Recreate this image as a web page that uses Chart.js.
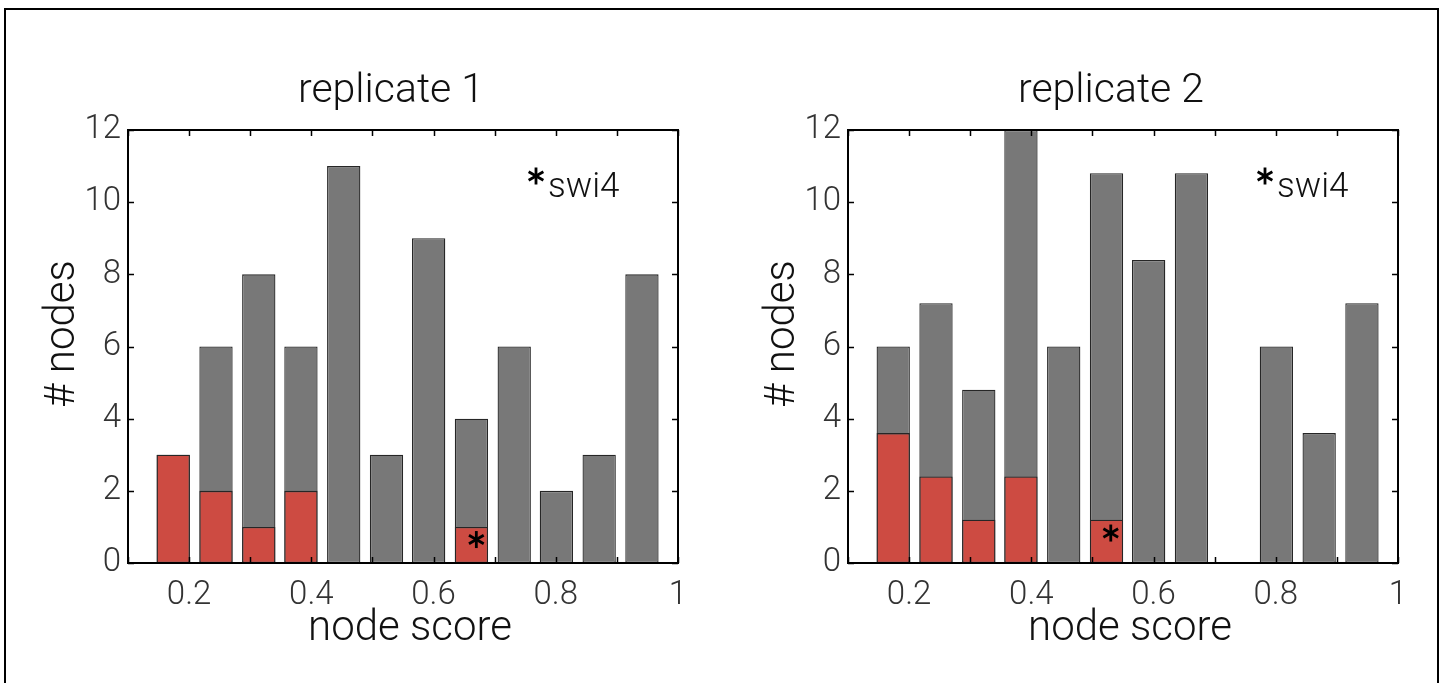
<!DOCTYPE html>
<html><head><meta charset="utf-8">
<script src="https://cdn.jsdelivr.net/npm/chart.js@4.4.0/dist/chart.umd.min.js"></script>
<style>
html,body{margin:0;padding:0;background:#fff;width:1443px;height:683px;overflow:hidden;position:relative;}
#frame{position:absolute;left:4px;top:8px;width:1435px;height:700px;border:2px solid #000;border-bottom:none;box-sizing:border-box;pointer-events:none;}
canvas{position:absolute;top:0;}
</style></head><body>
<canvas id="c1" width="720" height="683" style="left:0px"></canvas>
<canvas id="c2" width="720" height="683" style="left:720px"></canvas>
<div id="frame"></div>
<script>
// ---- data ----
const binCenters = [0.174, 0.244, 0.314, 0.383, 0.453, 0.523, 0.592, 0.662, 0.732, 0.801, 0.871, 0.941];
const rep1Total = [3, 6, 8, 6, 11, 3, 9, 4, 6, 2, 3, 8];
const rep1Red   = [3, 2, 1, 2, 0, 0, 0, 1, 0, 0, 0, 0];
const rep2Total = [6, 7.2, 4.8, 12, 6, 10.8, 8.4, 10.8, 0, 6, 3.6, 7.2];
const rep2Red   = [3.6, 2.4, 1.2, 2.4, 0, 1.2, 0, 0, 0, 0, 0, 0];
const rep1Star  = [0.670, 0.65];   // swi4 marker (x, y)
const rep2Star  = [0.530, 0.83];
const xTickLabels = [0.2, 0.4, 0.6, 0.8, 1];
const yTickValues = [0, 2, 4, 6, 8, 10, 12];
const titles = ['replicate 1', 'replicate 2'];
const xTitle = 'node score';
const yTitle = '# nodes';
const legendText = 'swi4';

const FONT = 'Roboto, "Liberation Sans", sans-serif';

function drawAsterisk(ctx, cx, cy, r, lw) {
  ctx.save();
  ctx.strokeStyle = '#000';
  ctx.lineWidth = lw;
  ctx.lineCap = 'butt';
  for (let k = 0; k < 3; k++) {
    const a = Math.PI / 2 + k * Math.PI / 3;
    ctx.beginPath();
    ctx.moveTo(cx - r * Math.cos(a), cy - r * Math.sin(a));
    ctx.lineTo(cx + r * Math.cos(a), cy + r * Math.sin(a));
    ctx.stroke();
  }
  ctx.restore();
}

const framePlugin = {
  id: 'frameTicks',
  afterDatasetsDraw(chart, args, opts) {
    const ctx = chart.ctx;
    const a = chart.chartArea;
    const xs = chart.scales.x, ys = chart.scales.y;
    ctx.save();
    ctx.strokeStyle = '#000';
    ctx.lineWidth = 1.5;
    const tl = 6;
    xs.ticks.forEach(t => {
      const px = Math.round(xs.getPixelForValue(t.value)) + 0.5;
      ctx.beginPath();
      ctx.moveTo(px, a.bottom); ctx.lineTo(px, a.bottom - tl);
      ctx.moveTo(px, a.top); ctx.lineTo(px, a.top + tl);
      ctx.stroke();
    });
    ys.ticks.forEach(t => {
      const py = Math.round(ys.getPixelForValue(t.value)) + 0.5;
      ctx.beginPath();
      ctx.moveTo(a.left, py); ctx.lineTo(a.left + tl, py);
      ctx.moveTo(a.right, py); ctx.lineTo(a.right - tl, py);
      ctx.stroke();
    });
    ctx.lineWidth = 2;
    ctx.strokeRect(a.left, a.top, a.right - a.left, a.bottom - a.top);
    // marker asterisk
    const st = opts.star;
    drawAsterisk(ctx, xs.getPixelForValue(st[0]), ys.getPixelForValue(st[1]), 8.5, 2.8);
    // legend
    const lx = a.left + opts.legendDx, ly = a.top + 67;
    drawAsterisk(ctx, lx - 12, ly - 21, 8.5, 2.8);
    ctx.fillStyle = '#111';
    ctx.font = '300 35px ' + FONT;
    ctx.textBaseline = 'alphabetic';
    ctx.textAlign = 'left';
    ctx.fillText(legendText, lx, ly);
    // titles
    const cx = (a.left + a.right) / 2;
    ctx.font = '300 41px ' + FONT;
    ctx.textAlign = 'center';
    ctx.textBaseline = 'middle';
    ctx.fillText(opts.title, cx - 12, 92);
    ctx.font = '300 42px ' + FONT;
    ctx.fillText(xTitle, cx + 7, 629);
    ctx.save();
    ctx.translate(a.left - 65, 334);
    ctx.rotate(-Math.PI / 2);
    ctx.fillText(yTitle, 0, 0);
    ctx.restore();
    ctx.restore();
  }
};

function makeChart(id, title, total, red, star, legendDx) {
  const toPts = arr => binCenters.map((x, i) => ({x: x, y: arr[i]})).filter(p => p.y > 0);
  return new Chart(document.getElementById(id), {
    type: 'bar',
    data: {
      datasets: [
        { data: toPts(red), backgroundColor: '#CD4B42', borderColor: '#262626', borderWidth: 1.3,
          borderSkipped: false, grouped: false, barPercentage: 0.79, categoryPercentage: 1 },
        { data: toPts(total), backgroundColor: '#787878', borderColor: '#262626', borderWidth: 1.3,
          borderSkipped: false, grouped: false, barPercentage: 0.79, categoryPercentage: 1 }
      ]
    },
    options: {
      responsive: false, animation: false, devicePixelRatio: 1,
      layout: { padding: { left: 0, right: 42, top: 130, bottom: 0 } },
      plugins: {
        legend: { display: false }, tooltip: { enabled: false }, title: { display: false },
        frameTicks: { star: star, legendDx: legendDx, title: title }
      },
      scales: {
        x: {
          type: 'linear', min: 0.1, max: 1, offset: false,
          grid: { display: false, drawTicks: false, offset: false },
          border: { display: false },
          ticks: { stepSize: 0.1, autoSkip: false, maxRotation: 0, padding: 13, color: '#333',
                   font: { family: FONT, size: 33, weight: '300' },
                   callback: v => { const r = Math.round(v * 10) / 10; return xTickLabels.includes(r) ? String(r) : ''; } },
          afterFit: s => { s.height = 120; }
        },
        y: {
          min: 0, max: 12,
          grid: { display: false, drawTicks: false },
          border: { display: false },
          afterBuildTicks: s => { s.ticks = yTickValues.map(v => ({value: v})); },
          ticks: { padding: 7, color: '#333', font: { family: FONT, size: 33, weight: '300' } },
          afterFit: s => { s.width = 128; }
        }
      }
    },
    plugins: [framePlugin]
  });
}

makeChart('c1', titles[0], rep1Total, rep1Red, rep1Star, 420);
makeChart('c2', titles[1], rep2Total, rep2Red, rep2Star, 429);
</script>
</body></html>
